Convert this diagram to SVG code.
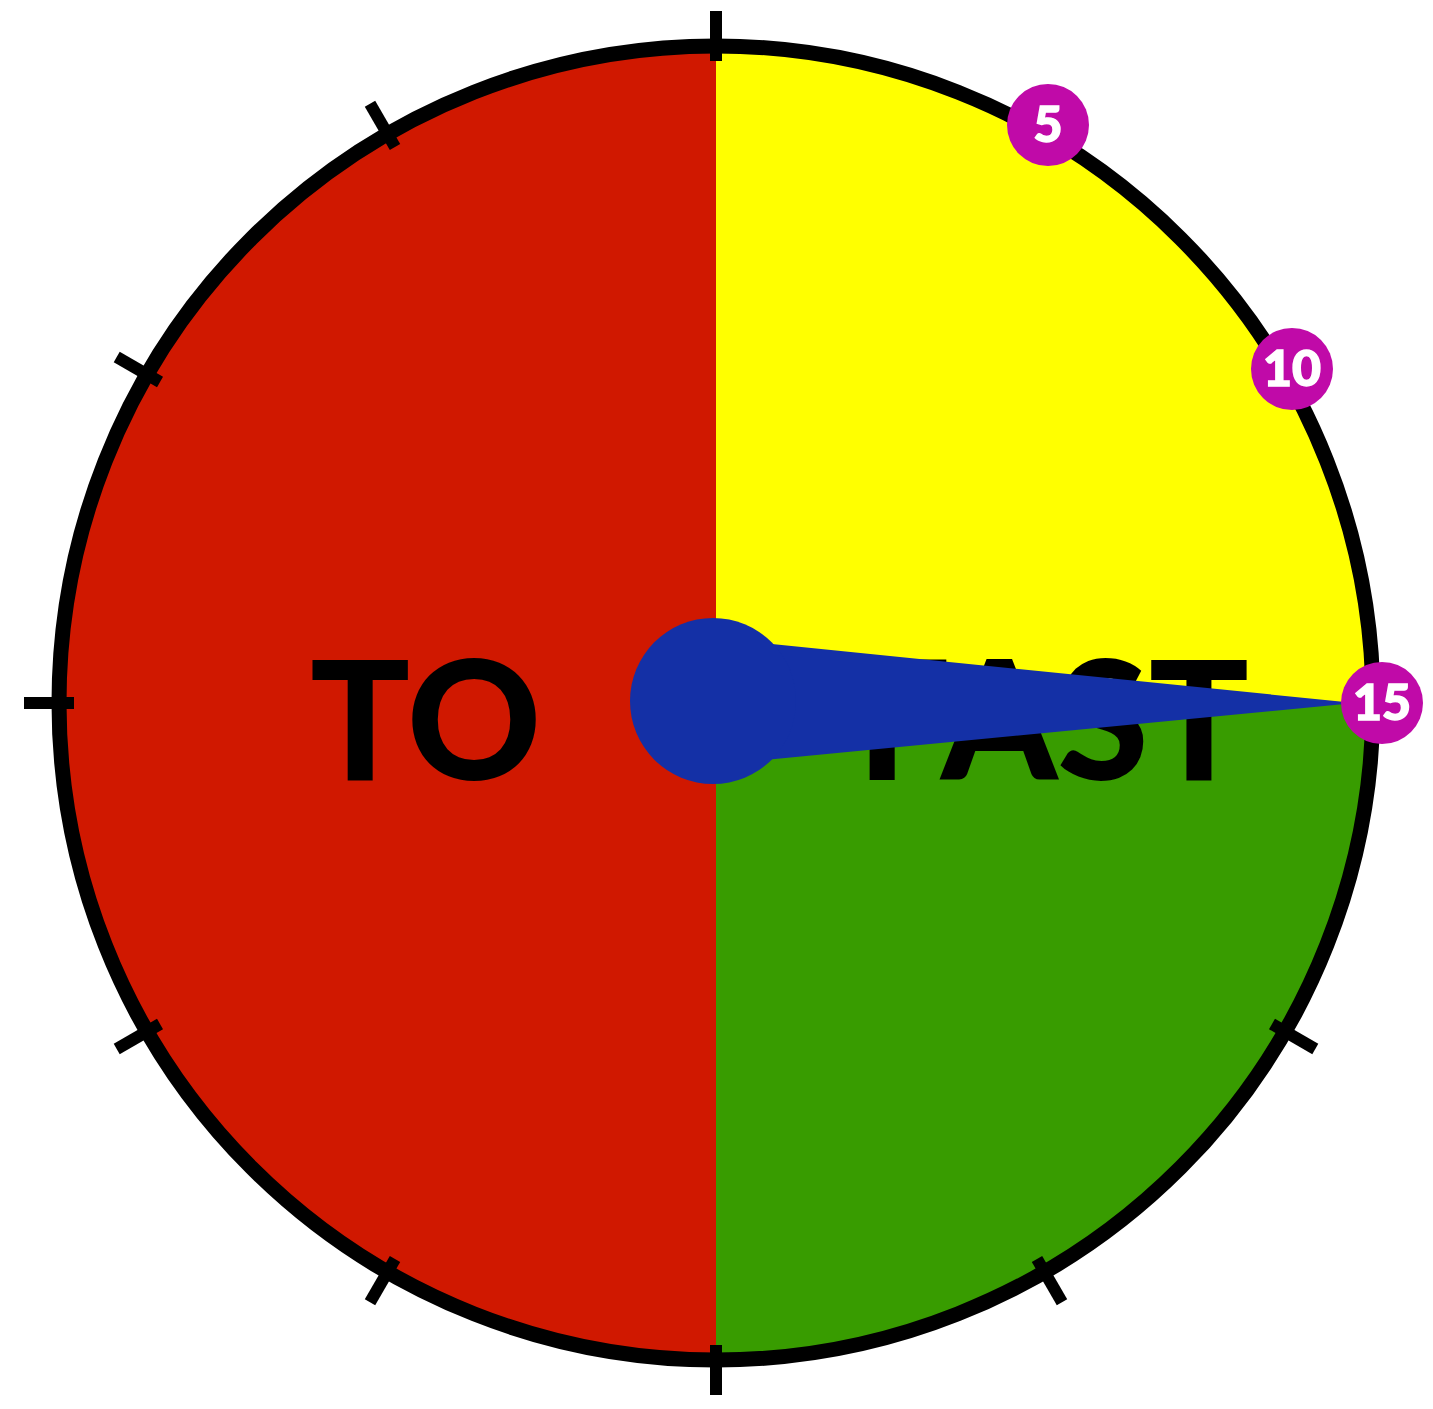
<svg xmlns="http://www.w3.org/2000/svg" width="1433" height="1409" viewBox="0 0 1433 1409">
<style>
.tick{stroke:#000;stroke-width:12;stroke-linecap:butt}
.badge{fill:#c00aa8}
.num{fill:#fff;stroke:#fff;stroke-width:1.5;font-family:Lato,"Liberation Sans",sans-serif;font-weight:900;font-size:50px;text-anchor:middle}
.big{fill:#000;font-family:Lato,"Liberation Sans",sans-serif;font-weight:900;font-size:166px}
</style>
<rect width="1433" height="1409" fill="#fff"/>
<g id="dial">
<path d="M716,703 L716,46 A657,657 0 0 0 716,1360 Z" fill="#d01800"/>
<path d="M716,703 L716,46 A657,657 0 0 1 1373,703 Z" fill="#ffff00"/>
<path d="M716,703 L1373,703 A657,657 0 0 1 716,1360 Z" fill="#389c00"/>
<circle cx="716" cy="703" r="657" fill="none" stroke="#000" stroke-width="15"/>
</g>
<g id="ticks">
<line class="tick" x1="716" y1="11" x2="716" y2="61"/>
<line class="tick" x1="716" y1="11" x2="716" y2="61" transform="rotate(120 716 703)"/>
<line class="tick" x1="716" y1="11" x2="716" y2="61" transform="rotate(150 716 703)"/>
<line class="tick" x1="716" y1="11" x2="716" y2="61" transform="rotate(180 716 703)"/>
<line class="tick" x1="716" y1="11" x2="716" y2="61" transform="rotate(210 716 703)"/>
<line class="tick" x1="716" y1="11" x2="716" y2="61" transform="rotate(240 716 703)"/>
<line class="tick" x1="716" y1="11" x2="716" y2="61" transform="rotate(270 716 703)"/>
<line class="tick" x1="716" y1="11" x2="716" y2="61" transform="rotate(300 716 703)"/>
<line class="tick" x1="716" y1="11" x2="716" y2="61" transform="rotate(330 716 703)"/>
</g>
<g id="labels">
<text class="big" x="310" y="780">TO</text>
<text class="big" x="857" y="780" textLength="392">FAST</text>
</g>
<g id="needle">
<polygon points="713,638 1355,703 713,765" fill="#1430a6"/>
<circle cx="713" cy="701" r="83" fill="#1430a6"/>
</g>
<g id="badge-5">
<circle class="badge" cx="1048" cy="125" r="41"/>
<text class="num" x="1048" y="142">5</text>
</g>
<g id="badge-10">
<circle class="badge" cx="1292" cy="369" r="41"/>
<text class="num" x="1292" y="386">10</text>
</g>
<g id="badge-15">
<circle class="badge" cx="1382" cy="703" r="41"/>
<text class="num" x="1382" y="720">15</text>
</g>
</svg>
